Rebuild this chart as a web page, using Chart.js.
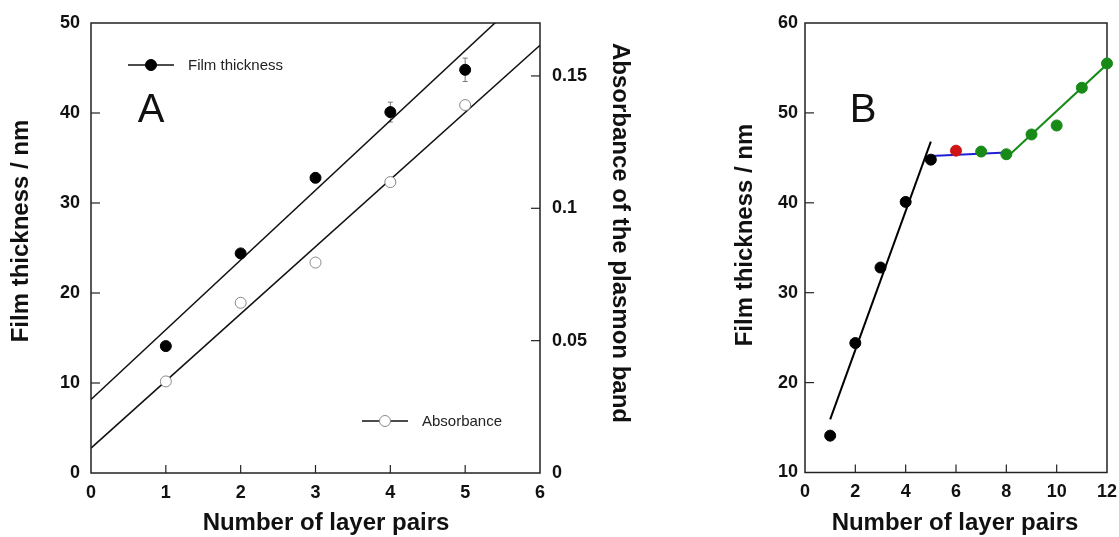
<!DOCTYPE html>
<html>
<head>
<meta charset="utf-8">
<script src="https://cdn.jsdelivr.net/npm/chart.js@4.4.1/dist/chart.umd.min.js"></script>
<style>
  html, body { margin: 0; padding: 0; background: #fff; }
  #wrap { position: relative; width: 1119px; height: 537px; overflow: hidden; }
  canvas { position: absolute; top: 0; }
  #chartA { left: 0; }
  #chartB { left: 660px; }
</style>
</head>
<body>
<div id="wrap">
  <canvas id="chartA" width="660" height="537"></canvas>
  <canvas id="chartB" width="459" height="537"></canvas>
</div>
<script>
// ---- panel A data ----
const layerPairsA = [1, 2, 3, 4, 5];
const thicknessA = [14.1, 24.4, 32.8, 40.1, 44.8];
const thicknessErrA = [0.3, 0.4, 0.4, 1.1, 1.3];
const absorbanceA = [0.0346, 0.0643, 0.0795, 0.1099, 0.139];
const fitRangeA = [0, 6];
const thicknessFitA = [8.17, 54.67];
const absorbanceFitA = [0.0094, 0.1616];
const xTicksA = [0, 1, 2, 3, 4, 5, 6];
const yTicksA = [0, 10, 20, 30, 40, 50];
const absTicksA = [0, 0.05, 0.1, 0.15];

// ---- panel B data ----
const pairsGrowth = [1, 2, 3, 4, 5];
const thicknessGrowth = [14.1, 24.4, 32.8, 40.1, 44.8];
const pairsTransition = [6];
const thicknessTransition = [45.8];
const pairsLate = [7, 8, 9, 10, 11, 12];
const thicknessLate = [45.7, 45.4, 47.6, 48.6, 52.8, 55.5];
const growthFitX = [1, 5];
const growthFitY = [15.9, 46.8];
const plateauFitX = [5, 8];
const plateauFitY = [45.2, 45.6];
const lateFitX = [8, 12];
const lateFitY = [45.0, 55.4];
const xTicksB = [0, 2, 4, 6, 8, 10, 12];
const yTicksB = [10, 20, 30, 40, 50, 60];

const FONT = '"Liberation Sans", Arial, Helvetica, sans-serif';
const INK = '#111';
const tickFont = { family: FONT, size: 18, weight: 'bold' };

const pts = (xs, ys) => xs.map((x, i) => ({ x: x, y: ys[i] }));
const fixTicks = vals => s => { s.ticks = vals.map(v => ({ value: v })); };
const noGrid = { display: false, drawTicks: false, tickLength: 0 };
const plainLabel = v => String(v);

// frame + inward ticks + error bars under the markers; titles, letter and keys on top
const framePlugin = {
  id: 'frame',
  beforeDatasetsDraw(chart, args, opts) {
    const ctx = chart.ctx;
    const a = chart.chartArea;
    ctx.save();
    ctx.strokeStyle = '#222';
    ctx.lineWidth = 1.5;
    ctx.strokeRect(a.left, a.top, a.right - a.left, a.bottom - a.top);
    ctx.lineWidth = 1.2;
    Object.values(chart.scales).forEach(s => {
      s.ticks.forEach(t => {
        if (t.value <= s.min || t.value >= s.max) return;
        const p = s.getPixelForValue(t.value);
        ctx.beginPath();
        if (s.position === 'bottom') { ctx.moveTo(p, a.bottom); ctx.lineTo(p, a.bottom - 8); }
        else if (s.position === 'left') { ctx.moveTo(a.left, p); ctx.lineTo(a.left + 9, p); }
        else if (s.position === 'right') { ctx.moveTo(a.right, p); ctx.lineTo(a.right - 9, p); }
        ctx.stroke();
      });
    });
    if (opts.errors) {
      const xs = chart.scales.x, ys = chart.scales.y;
      ctx.strokeStyle = '#777';
      ctx.lineWidth = 1;
      opts.errors.x.forEach((xv, i) => {
        const px = xs.getPixelForValue(xv);
        const hi = ys.getPixelForValue(opts.errors.y[i] + opts.errors.e[i]);
        const lo = ys.getPixelForValue(opts.errors.y[i] - opts.errors.e[i]);
        ctx.beginPath();
        ctx.moveTo(px, hi); ctx.lineTo(px, lo);
        ctx.moveTo(px - 2.5, hi); ctx.lineTo(px + 2.5, hi);
        ctx.moveTo(px - 2.5, lo); ctx.lineTo(px + 2.5, lo);
        ctx.stroke();
      });
    }
    ctx.restore();
  },
  afterDraw(chart, args, opts) {
    const ctx = chart.ctx;
    ctx.save();
    ctx.fillStyle = INK;
    ctx.textAlign = 'center';
    ctx.textBaseline = 'middle';
    ctx.font = 'bold 24px ' + FONT;
    (opts.titles || []).forEach(t => {
      ctx.save();
      ctx.translate(t.x, t.y);
      ctx.rotate(t.rot || 0);
      ctx.fillText(t.text, 0, 0);
      ctx.restore();
    });
    if (opts.letter) {
      ctx.font = '40px ' + FONT;
      ctx.fillText(opts.letter.text, opts.letter.x, opts.letter.y);
    }
    (opts.keys || []).forEach(k => {
      ctx.strokeStyle = INK;
      ctx.lineWidth = 1.5;
      ctx.beginPath();
      ctx.moveTo(k.x, k.y); ctx.lineTo(k.x + 46, k.y);
      ctx.stroke();
      ctx.beginPath();
      ctx.arc(k.x + 23, k.y, 5.5, 0, Math.PI * 2);
      ctx.fillStyle = k.fill;
      ctx.fill();
      ctx.strokeStyle = k.stroke;
      ctx.lineWidth = 1;
      ctx.stroke();
      ctx.fillStyle = '#222';
      ctx.font = '15px ' + FONT;
      ctx.textAlign = 'left';
      ctx.fillText(k.label, k.x + 60, k.y + 1);
    });
    ctx.restore();
  }
};

const baseOpts = {
  responsive: false,
  animation: false,
  devicePixelRatio: 1,
  events: [],
  plugins: { legend: { display: false }, tooltip: { enabled: false } }
};

const lineDs = (data, color, width, axis) => ({
  data: data, showLine: true, borderColor: color, borderWidth: width,
  pointRadius: 0, clip: 0, yAxisID: axis || 'y', order: 2
});
const dotDs = (data, fill, stroke, axis) => ({
  data: data, showLine: false, pointRadius: 5.5, pointBackgroundColor: fill,
  pointBorderColor: stroke, pointBorderWidth: 1, clip: false, yAxisID: axis || 'y', order: 1
});

const HALF_PI = Math.PI / 2;

new Chart(document.getElementById('chartA'), {
  type: 'scatter',
  data: {
    datasets: [
      lineDs(pts(fitRangeA, thicknessFitA), INK, 1.5),
      lineDs(pts(fitRangeA, absorbanceFitA), INK, 1.5, 'y2'),
      dotDs(pts(layerPairsA, thicknessA), '#000', '#000'),
      dotDs(pts(layerPairsA, absorbanceA), '#fff', '#888', 'y2')
    ]
  },
  options: Object.assign({}, baseOpts, {
    layout: { padding: { top: 23, left: 0, right: 0, bottom: 0 } },
    plugins: Object.assign({}, baseOpts.plugins, {
      frame: {
        errors: { x: layerPairsA, y: thicknessA, e: thicknessErrA },
        letter: { text: 'A', x: 151, y: 111 },
        keys: [
          { x: 128, y: 65, fill: '#000', stroke: '#000', label: 'Film thickness' },
          { x: 362, y: 421, fill: '#fff', stroke: '#888', label: 'Absorbance' }
        ],
        titles: [
          { text: 'Number of layer pairs', x: 326, y: 523 },
          { text: 'Film thickness / nm', x: 21, y: 231, rot: -HALF_PI },
          { text: 'Absorbance of the plasmon band', x: 620, y: 233, rot: HALF_PI }
        ]
      }
    }),
    scales: {
      x: {
        type: 'linear', position: 'bottom', min: 0, max: 6,
        afterBuildTicks: fixTicks(xTicksA),
        afterFit: s => { s.height = 64; },
        grid: noGrid, border: { display: false },
        ticks: { font: tickFont, color: INK, padding: 9, callback: plainLabel }
      },
      y: {
        type: 'linear', position: 'left', min: 0, max: 50,
        afterBuildTicks: fixTicks(yTicksA),
        afterFit: s => { s.width = 91; },
        grid: noGrid, border: { display: false },
        ticks: { font: tickFont, color: INK, padding: 11, callback: plainLabel }
      },
      y2: {
        type: 'linear', position: 'right', min: 0, max: 0.17,
        afterBuildTicks: fixTicks(absTicksA),
        afterFit: s => { s.width = 120; },
        grid: noGrid, border: { display: false },
        ticks: { font: tickFont, color: INK, padding: 12, callback: plainLabel }
      }
    }
  }),
  plugins: [framePlugin]
});

new Chart(document.getElementById('chartB'), {
  type: 'scatter',
  data: {
    datasets: [
      lineDs(pts(growthFitX, growthFitY), '#000', 2),
      lineDs(pts(plateauFitX, plateauFitY), '#1f1fd6', 2),
      lineDs(pts(lateFitX, lateFitY), '#178a17', 2),
      dotDs(pts(pairsGrowth, thicknessGrowth), '#000', '#000'),
      dotDs(pts(pairsTransition, thicknessTransition), '#d01515', '#d01515'),
      dotDs(pts(pairsLate, thicknessLate), '#178a17', '#178a17')
    ]
  },
  options: Object.assign({}, baseOpts, {
    layout: { padding: { top: 23, left: 0, right: 12, bottom: 0 } },
    plugins: Object.assign({}, baseOpts.plugins, {
      frame: {
        letter: { text: 'B', x: 203, y: 111 },
        titles: [
          { text: 'Number of layer pairs', x: 295, y: 523 },
          { text: 'Film thickness / nm', x: 85, y: 235, rot: -HALF_PI }
        ]
      }
    }),
    scales: {
      x: {
        type: 'linear', position: 'bottom', min: 0, max: 12,
        afterBuildTicks: fixTicks(xTicksB),
        afterFit: s => { s.height = 64.5; s.paddingLeft = 0; s.paddingRight = 0; },
        grid: noGrid, border: { display: false },
        ticks: { font: tickFont, color: INK, padding: 9, callback: plainLabel }
      },
      y: {
        type: 'linear', position: 'left', min: 10, max: 60,
        afterBuildTicks: fixTicks(yTicksB),
        afterFit: s => { s.width = 145; },
        grid: noGrid, border: { display: false },
        ticks: { font: tickFont, color: INK, padding: 7, callback: plainLabel }
      }
    }
  }),
  plugins: [framePlugin]
});
</script>
</body>
</html>
